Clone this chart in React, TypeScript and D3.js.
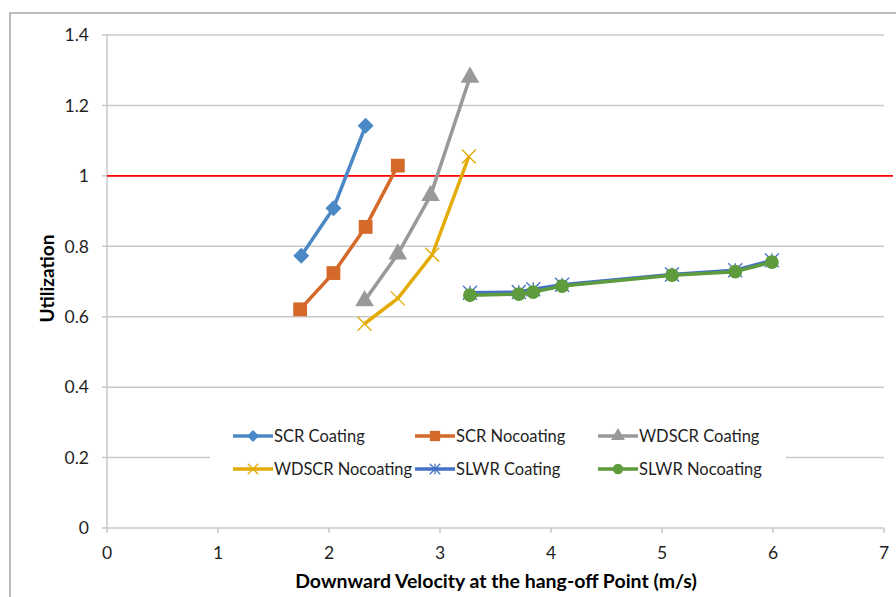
import * as d3 from "d3";

const seriesNames = ["SCR Coating", "SCR Nocoating", "WDSCR Coating", "WDSCR Nocoating", "SLWR Coating", "SLWR Nocoating"];
const seriesColors = ["#4a88c6", "#d4692a", "#999999", "#e3ab05", "#4472c4", "#5e9b3c"];
const seriesMarkers = ["diamond", "square", "triangle", "x", "star", "circle"];

const scrCoatingX = [1.75, 2.04, 2.33];
const scrCoatingY = [0.773, 0.908, 1.142];
const scrNocoatingX = [1.74, 2.04, 2.33, 2.62];
const scrNocoatingY = [0.621, 0.724, 0.855, 1.029];
const wdscrCoatingX = [2.32, 2.62, 2.915, 3.27];
const wdscrCoatingY = [0.645, 0.778, 0.944, 1.28];
const wdscrNocoatingX = [2.32, 2.62, 2.93, 3.26];
const wdscrNocoatingY = [0.58, 0.652, 0.776, 1.055];
const slwrX = [3.27, 3.71, 3.84, 4.1, 5.09, 5.66, 5.99];
const slwrCoatingY = [0.668, 0.67, 0.678, 0.691, 0.72, 0.732, 0.76];
const slwrNocoatingY = [0.661, 0.664, 0.67, 0.687, 0.718, 0.728, 0.755];

const xTicks = [0, 1, 2, 3, 4, 5, 6, 7];
const yTicks = [0, 0.2, 0.4, 0.6, 0.8, 1, 1.2, 1.4];
const limitValue = 1;

const seriesX = [scrCoatingX, scrNocoatingX, wdscrCoatingX, wdscrNocoatingX, slwrX, slwrX];
const seriesY = [scrCoatingY, scrNocoatingY, wdscrCoatingY, wdscrNocoatingY, slwrCoatingY, slwrNocoatingY];

const W = 896;
const H = 597;
const FONT = "Lato, 'Open Sans', sans-serif";

function Marker({ kind, color, x, y, s = 1 }: { kind: string; color: string; x: number; y: number; s?: number }) {
  const t = `translate(${x},${y})`;
  if (kind === "x" || kind === "star") {
    const r = 7 * s;
    const extra = kind === "star" ? `M0,${-r}L0,${r}` : "";
    return (
      <path
        transform={t}
        d={`M${-r},${-r}L${r},${r}M${-r},${r}L${r},${-r}${extra}`}
        stroke={color}
        strokeWidth={1.3}
        fill="none"
      />
    );
  }
  if (kind === "diamond") {
    const r = 8 * s;
    return <path transform={t} d={`M0,${-r}L${r},0L0,${r}L${-r},0Z`} fill={color} />;
  }
  const typeMap: Record<string, d3.SymbolType> = {
    square: d3.symbolSquare,
    triangle: d3.symbolTriangle,
    circle: d3.symbolCircle,
  };
  const sizeMap: Record<string, number> = { square: 190, triangle: 150, circle: 150 };
  const d = d3.symbol().type(typeMap[kind]).size(sizeMap[kind] * s * s)() as string;
  return <path transform={t} d={d} fill={color} />;
}

export default function App() {
  const x = d3.scaleLinear().domain([0, 7]).range([107, 884]);
  const y = d3.scaleLinear().domain([0, 1.4]).range([528, 35]);
  const line = d3
    .line<[number, number]>()
    .x((d) => x(d[0]))
    .y((d) => y(d[1]));

  const legendCols = [233, 415, 598];
  const legendRows = [436, 469];

  return (
    <svg width={W} height={H} style={{ position: "absolute", left: 0, top: 0, background: "#fff" }} fontFamily={FONT}>
      <rect x={10} y={13} width={W} height={H} fill="#fff" stroke="#a6a6a6" strokeWidth={1.5} />

      {yTicks.map((t) => (
        <g key={t}>
          <line x1={102} x2={x(7)} y1={y(t)} y2={y(t)} stroke="#c9c9c9" strokeWidth={1.5} />
          <text x={89} y={y(t)} dy="0.36em" textAnchor="end" fontSize={17.5} fill="#1f1f1f">
            {t}
          </text>
        </g>
      ))}
      <line x1={x(0)} x2={x(0)} y1={y(1.4)} y2={y(0)} stroke="#c9c9c9" strokeWidth={1.5} />
      {xTicks.map((t) => (
        <g key={t}>
          <line x1={x(t)} x2={x(t)} y1={y(0)} y2={y(0) + 5} stroke="#c9c9c9" strokeWidth={1.5} />
          <text x={x(t)} y={553} dy="0.36em" textAnchor="middle" fontSize={17.5} fill="#1f1f1f">
            {t}
          </text>
        </g>
      ))}

      <line x1={x(0)} x2={893} y1={y(limitValue)} y2={y(limitValue)} stroke="#ff0000" strokeWidth={1.6} />

      {seriesNames.map((name, i) => {
        const pts = seriesX[i].map((v, j) => [v, seriesY[i][j]] as [number, number]);
        return (
          <g key={name}>
            <path d={line(pts) as string} fill="none" stroke={seriesColors[i]} strokeWidth={3.5} strokeLinejoin="round" />
            {pts.map((p, j) => (
              <Marker key={j} kind={seriesMarkers[i]} color={seriesColors[i]} x={x(p[0])} y={y(p[1])} />
            ))}
          </g>
        );
      })}

      <rect x={210} y={418} width={576} height={68} fill="#fff" />
      {seriesNames.map((name, i) => {
        const lx = legendCols[i % 3];
        const ly = legendRows[Math.floor(i / 3)];
        return (
          <g key={name}>
            <line x1={lx} x2={lx + 40} y1={ly} y2={ly} stroke={seriesColors[i]} strokeWidth={3.5} />
            <Marker kind={seriesMarkers[i]} color={seriesColors[i]} x={lx + 20} y={ly} s={0.75} />
            <text x={lx + 41} y={ly} dy="0.36em" fontSize={16.5} fill="#1f1f1f" textLength={name === "WDSCR Nocoating" ? 138 : undefined}>
              {name}
            </text>
          </g>
        );
      })}

      <text x={496} y={581} dy="0.36em" textAnchor="middle" fontSize={19.5} fontWeight="bold" fill="#000">
        Downward Velocity at the hang-off Point (m/s)
      </text>
      <text
        transform={`translate(47,${y(0.7) - 3}) rotate(-90)`}
        dy="0.36em"
        textAnchor="middle"
        fontSize={19}
        fontWeight="bold"
        fill="#000"
      >
        Utilization
      </text>
    </svg>
  );
}
